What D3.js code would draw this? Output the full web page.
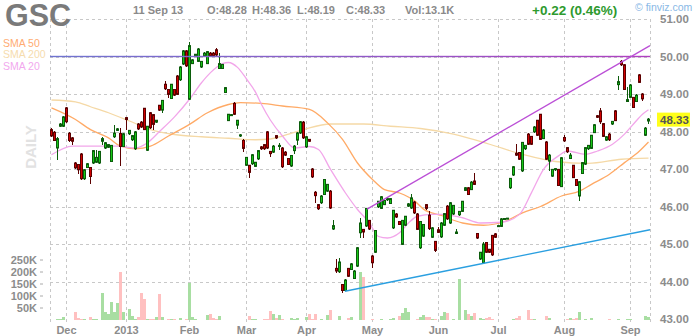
<!DOCTYPE html>
<html>
<head>
<meta charset="utf-8">
<script src="https://cdn.jsdelivr.net/npm/d3@7"></script>
<style>
  body { margin: 0; background: #fff; }
  svg { display: block; font-family: Arial, "Liberation Sans", sans-serif; }
</style>
</head>
<body>
<svg width="700" height="336"></svg>
<script>
// GSC daily, 26 Nov 2012 - 11 Sep 2013
var startDay = "2012-11-26", endDay = "2013-09-11";
var holidays = ["2012-12-25", "2013-01-01", "2013-01-21", "2013-02-18", "2013-03-29", "2013-05-27", "2013-07-04", "2013-09-02"];

var opens = [48.05,47.98,47.56,48.14,48.14,48.63,47.95,47.83,47.16,47.12,
  47.40,46.74,47.04,47.04,47.16,47.18,47.16,47.74,47.56,47.58,
  47.20,47.86,48.03,47.95,47.60,48.37,47.94,47.78,47.54,48.20,
  48.25,48.62,47.50,48.50,48.45,48.25,48.70,48.57,49.26,49.12,
  48.88,49.12,49.48,49.38,49.80,50.15,48.86,49.81,50.02,49.87,
  49.72,50.02,49.81,50.09,50.09,50.18,49.68,49.68,49.04,48.29,
  48.43,48.75,48.17,47.88,47.76,47.10,47.10,47.14,47.07,47.27,
  47.59,47.65,47.99,47.47,47.45,47.89,47.60,47.56,47.45,47.28,
  47.08,47.49,47.77,47.96,48.25,47.59,47.79,47.00,46.38,46.05,
  46.10,46.32,46.41,46.41,45.40,44.35,44.26,43.92,43.76,44.35,
  44.32,44.08,44.41,45.30,45.39,45.48,45.63,44.68,44.78,45.99,
  45.95,46.05,46.18,46.08,45.43,45.80,45.60,44.99,45.50,46.01,
  45.96,46.12,45.80,44.90,45.21,46.05,45.77,45.18,45.07,45.38,
  45.19,45.50,46.01,45.56,45.80,45.28,45.78,45.87,46.43,46.50,
  46.45,46.68,45.28,44.60,44.50,45.04,44.86,45.23,45.27,45.49,
  45.47,45.67,45.68,46.50,46.84,47.42,47.44,46.95,47.54,47.93,
  47.87,47.99,48.30,48.46,47.81,47.72,47.21,46.81,46.98,46.99,
  46.53,47.84,47.57,47.28,47.10,46.72,46.28,46.88,47.13,47.54,
  47.55,47.97,48.42,48.55,48.21,47.77,47.93,48.20,48.55,49.25,
  49.87,49.78,48.80,48.91,48.91,48.80,49.51,49.00,47.90,48.28];

var highs = [48.10,48.02,47.86,48.22,48.42,48.66,47.98,47.86,47.18,47.14,
  47.42,47.00,47.16,47.06,47.51,47.52,47.49,47.86,47.72,47.67,
  47.65,48.17,48.09,48.10,47.96,48.40,48.05,47.91,48.01,48.23,
  48.27,48.64,48.16,48.52,48.47,48.32,48.72,48.85,49.35,49.14,
  49.28,49.14,49.50,49.74,50.17,50.18,50.39,49.93,50.08,50.22,
  49.89,50.11,50.15,50.11,50.11,50.22,50.09,49.81,49.19,48.48,
  48.47,48.78,48.32,47.93,47.79,47.33,47.12,47.40,47.20,47.51,
  47.61,47.67,48.01,47.49,47.63,47.91,47.70,47.58,47.47,47.30,
  47.38,47.63,47.98,48.28,48.27,47.88,47.81,47.02,46.42,46.07,
  46.30,46.74,46.61,46.43,45.65,44.60,44.62,43.94,44.06,44.37,
  44.49,44.30,44.92,45.70,45.41,45.97,45.65,44.70,45.38,46.16,
  46.28,46.18,46.23,46.23,45.92,45.82,45.62,45.65,45.76,46.09,
  46.33,46.14,45.82,45.62,45.54,46.08,45.88,45.45,45.09,45.45,
  45.58,45.83,46.03,46.12,46.05,45.40,45.89,46.16,46.52,46.52,
  46.67,46.90,45.30,44.80,45.05,45.06,44.88,45.25,45.29,45.51,
  45.69,45.70,45.70,46.77,47.08,47.66,47.46,47.73,47.65,47.95,
  47.89,48.14,48.32,48.48,48.06,47.74,47.39,47.01,47.03,47.01,
  47.32,47.90,47.59,47.42,47.12,46.74,46.68,47.19,47.59,47.65,
  47.92,48.20,48.44,48.62,48.23,47.88,47.95,48.29,48.57,49.48,
  49.90,49.80,49.18,49.26,48.93,48.99,49.53,49.02,48.11,48.36];

var lows = [47.85,47.74,47.23,48.12,48.12,48.24,47.72,47.65,47.00,46.86,
  46.72,46.72,47.02,46.60,47.14,47.16,47.14,47.63,47.54,47.56,
  47.18,47.84,48.01,47.07,47.58,48.05,47.92,47.76,47.52,48.05,
  48.10,48.03,47.48,48.08,48.05,48.23,48.55,48.50,49.12,48.90,
  48.86,48.95,48.97,49.36,49.78,49.73,48.84,49.79,50.00,49.85,
  49.70,50.00,49.79,50.00,50.00,50.02,49.66,49.66,49.02,48.27,
  48.41,48.44,48.07,47.86,47.45,47.08,46.76,47.12,47.05,47.25,
  47.52,47.52,47.54,47.33,47.43,47.81,47.52,47.04,47.35,47.10,
  47.06,47.39,47.65,47.94,47.81,47.57,47.72,46.77,46.10,45.92,
  46.08,46.30,46.39,45.94,45.38,44.24,44.24,43.70,43.74,44.12,
  44.30,44.06,44.39,45.16,45.16,45.46,45.38,44.36,44.76,45.97,
  45.93,46.03,46.16,46.06,45.41,45.70,45.50,44.97,45.48,45.99,
  45.94,45.81,45.37,44.88,45.19,45.90,45.38,45.16,44.78,45.29,
  45.17,45.48,45.65,45.54,45.78,45.26,45.76,45.85,46.41,46.30,
  46.43,46.57,45.14,44.58,44.47,44.76,44.76,44.69,45.16,45.47,
  45.45,45.66,45.66,46.48,46.82,47.35,47.24,46.93,47.52,47.64,
  47.64,47.97,47.88,47.77,47.79,47.24,46.95,46.79,46.96,46.54,
  46.51,47.73,47.44,47.26,46.75,46.54,46.14,46.86,47.11,47.52,
  47.53,47.95,48.36,48.20,47.85,47.75,47.76,48.18,48.27,49.10,
  49.76,49.10,48.78,48.89,48.62,48.78,49.29,48.82,47.88,48.19];

var closes = [47.88,47.76,47.81,48.20,48.39,48.26,47.76,47.74,47.03,46.98,
  46.74,46.98,47.14,46.80,47.49,47.31,47.47,47.81,47.70,47.65,
  47.63,47.96,48.07,47.60,47.94,48.32,48.03,47.89,47.99,48.07,
  48.12,48.05,48.14,48.10,48.19,48.30,48.57,48.83,49.14,48.99,
  49.26,48.97,48.99,49.72,50.15,49.75,50.29,49.91,50.06,50.20,
  49.87,50.09,50.13,50.02,50.02,50.04,49.81,49.79,49.17,48.46,
  48.45,48.46,48.30,47.91,47.55,47.31,46.91,47.38,47.18,47.49,
  47.54,47.54,47.56,47.41,47.61,47.83,47.63,47.06,47.37,47.12,
  47.36,47.61,47.96,48.26,47.83,47.86,47.74,46.79,46.29,45.94,
  46.28,46.72,46.59,45.96,45.49,44.28,44.52,43.76,44.04,44.14,
  44.47,44.28,44.90,45.56,45.32,45.95,45.40,44.50,45.36,46.14,
  46.26,46.16,46.21,46.21,45.90,45.72,45.52,45.63,45.74,46.07,
  46.23,45.83,45.39,45.60,45.52,45.95,45.41,45.43,44.83,45.31,
  45.56,45.81,45.67,46.10,46.03,45.32,45.87,46.14,46.50,46.32,
  46.65,46.59,45.16,44.78,45.00,44.78,44.78,44.71,45.18,45.49,
  45.67,45.68,45.69,46.75,47.06,47.37,47.26,47.71,47.63,47.66,
  47.66,48.12,47.90,47.79,48.04,47.26,47.37,46.99,47.01,46.56,
  47.30,47.75,47.46,47.37,46.77,46.56,46.66,47.17,47.57,47.63,
  47.90,48.18,48.38,48.26,47.87,47.86,47.78,48.27,48.29,49.33,
  49.78,49.12,48.85,49.24,48.64,48.97,49.31,48.87,48.09,48.33];

// volume, thousands of shares
var volumes = [2,2,3,3,14,0,0,0,32,10,
  3,6,2,14,6,3,0,111,35,24,
  76,35,70,202,35,2,47,18,3,11,
  111,89,3,3,3,12,110,14,2,6,
  6,3,2,10,2,3,156,14,3,2,
  2,0,22,26,7,3,17,0,2,0,
  2,0,2,0,0,0,17,3,6,2,
  2,3,4,39,24,8,22,3,2,0,
  10,4,10,2,0,14,26,3,26,0,
  3,0,22,43,0,0,18,0,0,10,
  14,0,0,202,178,0,0,4,0,0,
  6,2,0,6,8,0,18,28,49,35,
  0,0,6,14,22,14,14,4,4,0,
  18,32,28,0,4,0,171,0,43,26,
  15,31,0,8,3,8,14,4,2,0,
  0,0,0,0,6,8,17,0,2,43,
  3,3,0,0,0,17,10,0,2,2,
  0,0,6,8,6,10,35,0,3,0,
  8,0,0,0,0,0,4,0,0,4,
  0,0,6,6,0,0,0,0,17,13];

// moving averages: [bar number, value]
var sma20 = [[0,47.38],[7,47.61],[13,47.61],[22,47.61],[28,47.56],[32,47.7],[36,48.0],[41,48.39],[46,48.86],
  [50,49.3],[53,49.57],[57,49.81],[59,49.84],[62,49.71],[65,49.4],[68,49.05],[70,48.72],[73,48.3],[77,47.88],
  [81,47.56],[86,47.6],[89,47.52],[93,46.99],[98,46.36],[102,45.92],[106,45.56],[109,45.2],[112,45.16],
  [116,45.3],[119,45.56],[122,45.74],[127,45.79],[130,45.79],[137,45.7],[143,45.56],[150,45.58],[156,45.79],
  [160,46.37],[164,46.99],[169,47.35],[172,47.48],[178,47.39],[182,47.48],[187,47.66],[191,47.93],
  [194,48.2],[197,48.46],[199,48.58]];
var sma50 = [[0,48.63],[8,48.32],[13,48.05],[19,47.83],[23,47.61],[28,47.54],[33,47.61],[39,47.88],[46,48.19],
  [52,48.5],[59,48.72],[63,48.77],[70,48.75],[77,48.68],[86,48.59],[92,48.23],[97,47.79],[102,47.16],
  [107,46.72],[111,46.45],[116,46.36],[121,46.15],[124,45.93],[130,45.76],[137,45.56],[144,45.5],[151,45.6],
  [157,45.83],[163,46.0],[170,46.28],[176,46.41],[180,46.59],[186,46.86],[191,47.17],[196,47.48],[199,47.72]];
var sma200 = [[0,48.84],[8,48.79],[13,48.66],[19,48.5],[26,48.28],[33,48.05],[41,47.92],[50,47.86],[59,47.82],
  [68,47.78],[73,47.8],[77,47.88],[84,48.05],[93,48.2],[104,48.2],[113,48.14],[123,48.08],[134,47.93],
  [146,47.66],[157,47.39],[168,47.2],[179,47.15],[190,47.26],[199,47.29]];

// drawn trendlines: [bar number, price]
var levelLine = [[0,50.0],[200,50.0]];
var upperLine = [[105.7,45.93],[200,50.29]];
var lowerLine = [[98.3,43.74],[200,45.38]];

var priceTicks = [44,45,46,47,48,49,50,51];
var volTicks = [50,100,150,200,250];
var last = {o:48.28, h:48.36, l:48.19, c:48.33, vol:"13.1K", chg:"+0.22 (0.46%)", day:"11 Sep 13"};

var drawChart = function () {
    // trading days
    var parseDay = d3.timeParse("%Y-%m-%d"), fmtDay = d3.timeFormat("%Y-%m-%d");
    var days = d3.timeDay.range(parseDay(startDay), d3.timeDay.offset(parseDay(endDay), 1))
      .filter(function(d) { return d.getDay() != 0 && d.getDay() != 6 && holidays.indexOf(fmtDay(d)) < 0; })
      .slice(0, closes.length);

    var bars = closes.map(function(c, i) {
      return {i: i, date: days[i], o: opens[i], h: highs[i], l: lows[i], c: c, v: volumes[i], up: c >= opens[i]};
    });

    var svg = d3.select("svg"),
        plot = {left: 50, right: 650, top: 19, bottom: 319};

    var x = d3.scaleLinear().domain([0, bars.length]).range([plot.left, plot.right]);
    var y = d3.scaleLinear().domain([43, 51]).range([plot.bottom, plot.top]);
    var yv = d3.scaleLinear().domain([0, 250]).range([320, 260]);
    var step = x(1) - x(0);

    svg.append("rect").attr("width", 700).attr("height", 336).attr("fill", "#fff");

    // month starts
    var months = bars.filter(function(d, i) {
      return i > 0 && d.date.getMonth() != bars[i - 1].date.getMonth();
    });

    var grid = svg.append("g")
        .attr("stroke", "#c8c8c8")
        .attr("stroke-dasharray", "3,3")
        .attr("shape-rendering", "crispEdges");

    grid.selectAll(".hg")
      .data(priceTicks)
      .enter().append("line")
        .attr("x1", plot.left).attr("x2", plot.right)
        .attr("y1", function(d) { return Math.round(y(d)) + 0.5; })
        .attr("y2", function(d) { return Math.round(y(d)) + 0.5; });

    grid.selectAll(".vg")
      .data([0].concat(months.map(function(d) { return d.i + 0.5; }), [bars.length]))
      .enter().append("line")
        .attr("x1", function(d) { return Math.floor(x(d)) + 0.5; })
        .attr("x2", function(d) { return Math.floor(x(d)) + 0.5; })
        .attr("y1", plot.top).attr("y2", 322);

    // DAILY label
    svg.append("text")
      .attr("transform", "translate(36,147) rotate(-90)")
      .attr("text-anchor", "middle")
      .attr("font-size", 15).attr("font-weight", "bold")
      .attr("fill", "#e2e2e2")
      .text("DAILY");

    // volume
    svg.append("g").selectAll("rect")
      .data(bars.filter(function(d) { return d.v > 0; }))
      .enter().append("rect")
        .attr("x", function(d) { return x(d.i); })
        .attr("width", step)
        .attr("y", function(d) { return yv(d.v); })
        .attr("height", function(d) { return yv(0) - yv(d.v); })
        .attr("fill", function(d) { return d.up ? "#a8dea2" : "#ffc0c0"; })
        .attr("shape-rendering", "crispEdges");

    // moving averages
    var maLine = d3.line()
        .x(function(d) { return x(d[0] + 0.5); })
        .y(function(d) { return y(d[1]); })
        .curve(d3.curveMonotoneX);

    [[sma200, "#f5d9a6"], [sma50, "#ffaa66"], [sma20, "#f2a6ea"]].forEach(function(s) {
      svg.append("path")
        .datum(s[0])
        .attr("fill", "none")
        .attr("stroke", s[1])
        .attr("stroke-width", 1.3)
        .attr("d", maLine);
    });

    // candles
    var candles = svg.append("g").selectAll("g")
      .data(bars)
      .enter().append("g");

    candles.append("line")
        .attr("x1", function(d) { return x(d.i) + 1.5; })
        .attr("x2", function(d) { return x(d.i) + 1.5; })
        .attr("y1", function(d) { return y(d.h); })
        .attr("y2", function(d) { return y(d.l); })
        .attr("stroke", function(d) { return d.up ? "#0b5c0b" : "#5c0000"; })
        .attr("shape-rendering", "crispEdges");

    candles.append("rect")
        .attr("x", function(d) { return x(d.i) + 0.5; })
        .attr("width", step - 1)
        .attr("y", function(d) { return y(Math.max(d.o, d.c)); })
        .attr("height", function(d) { return Math.max(1, Math.abs(y(d.o) - y(d.c))); })
        .attr("fill", function(d) { return d.up ? "#16c816" : "#d20000"; })
        .attr("stroke", function(d) { return d.up ? "#0b5c0b" : "#5c0000"; })
        .attr("stroke-width", 1);

    // trendlines
    var tline = d3.line()
        .x(function(d) { return x(d[0]); })
        .y(function(d) { return y(d[1]); });

    var grad = svg.append("defs").append("linearGradient")
        .attr("id", "lvl").attr("x1", "0%").attr("x2", "100%");
    grad.append("stop").attr("offset", "0%").attr("stop-color", "#6f74d0");
    grad.append("stop").attr("offset", "100%").attr("stop-color", "#b040c0");

    svg.append("rect")
        .attr("x", x(levelLine[0][0])).attr("width", x(levelLine[1][0]) - x(levelLine[0][0]))
        .attr("y", y(levelLine[0][1]) - 0.7).attr("height", 1.4)
        .attr("fill", "url(#lvl)");

    svg.append("path").datum(upperLine)
        .attr("fill", "none").attr("stroke", "#bb4fd6").attr("stroke-width", 1.3)
        .attr("d", tline);

    svg.append("path").datum(lowerLine)
        .attr("fill", "none").attr("stroke", "#2a9fe0").attr("stroke-width", 1.3)
        .attr("d", tline);

    // price axis
    svg.append("g").selectAll("text")
      .data([43].concat(priceTicks))
      .enter().append("text")
        .attr("x", 660)
        .attr("y", function(d) { return y(d); })
        .attr("dy", "0.35em")
        .attr("font-size", 11.5).attr("font-weight", "bold")
        .attr("fill", "#8c8c8c")
        .text(function(d) { return d3.format(".2f")(d); });

    svg.append("rect")
        .attr("x", 657).attr("y", y(last.c) - 6.5)
        .attr("width", 33).attr("height", 14)
        .attr("fill", "#ffff1a");
    svg.append("text")
        .attr("x", 660).attr("y", y(last.c) + 0.5)
        .attr("dy", "0.35em")
        .attr("font-size", 11.5).attr("font-weight", "bold")
        .attr("fill", "#555")
        .text(d3.format(".2f")(last.c));

    // volume axis
    var vAxis = svg.append("g");
    vAxis.selectAll("text")
      .data(volTicks)
      .enter().append("text")
        .attr("x", 37)
        .attr("y", function(d) { return yv(d); })
        .attr("dy", "0.35em")
        .attr("text-anchor", "end")
        .attr("font-size", 11).attr("font-weight", "bold")
        .attr("fill", "#8c8c8c")
        .text(function(d) { return d + "K"; });
    vAxis.selectAll("line")
      .data(volTicks)
      .enter().append("line")
        .attr("x1", 40).attr("x2", 43)
        .attr("y1", function(d) { return yv(d); })
        .attr("y2", function(d) { return yv(d); })
        .attr("stroke", "#aaa");

    // month labels
    svg.append("g").selectAll("text")
      .data(months)
      .enter().append("text")
        .attr("x", function(d) { return x(d.i + 0.5); })
        .attr("y", 334)
        .attr("text-anchor", "middle")
        .attr("font-size", 11).attr("font-weight", "bold")
        .attr("fill", "#8c8c8c")
        .text(function(d) { return d.date.getMonth() == 0 ? d3.timeFormat("%Y")(d.date) : d3.timeFormat("%b")(d.date); });

    // header
    svg.append("text")
        .attr("x", 5).attr("y", 26)
        .attr("font-size", 30.5).attr("font-weight", "bold")
        .attr("fill", "#7a7a7a")
        .text("GSC");

    var head = [[133, last.day], [207, "O:" + last.o.toFixed(2)], [252, "H:" + last.h.toFixed(2)],
                [297, "L:" + last.l.toFixed(2)], [346, "C:" + last.c.toFixed(2)], [405, "Vol:" + last.vol]];
    svg.append("g").selectAll("text")
      .data(head)
      .enter().append("text")
        .attr("x", function(d) { return d[0]; })
        .attr("y", 14)
        .attr("font-size", 11).attr("font-weight", "bold")
        .attr("fill", "#8a8a8a")
        .text(function(d) { return d[1]; });

    svg.append("text")
        .attr("x", 532).attr("y", 15)
        .attr("font-size", 13.5).attr("font-weight", "bold")
        .attr("fill", "#2e9a2e")
        .text(last.chg);

    svg.append("text")
        .attr("x", 635).attr("y", 11)
        .attr("font-size", 10.5)
        .attr("fill", "#88b8e6")
        .text("\u00a9 finviz.com");

    // legend
    svg.append("g").selectAll("text")
      .data([["SMA 50", "#ffab72"], ["SMA 200", "#f6dcae"], ["SMA 20", "#f2a8ee"]])
      .enter().append("text")
        .attr("x", 3)
        .attr("y", function(d, i) { return 46.5 + i * 11.5; })
        .attr("font-size", 10.5)
        .attr("fill", function(d) { return d[1]; })
        .text(function(d) { return d[0]; });
}

drawChart();
</script>
</body>
</html>
